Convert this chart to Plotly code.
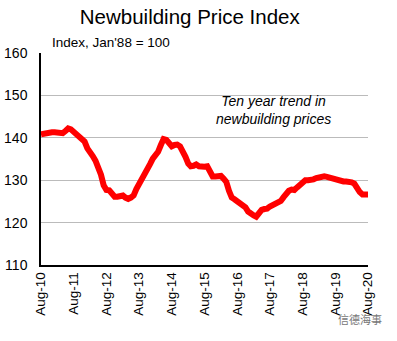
import plotly.graph_objects as go
import pandas as pd

values = [
    140.8, 141.0, 141.1, 141.2, 141.3, 141.3, 141.3, 141.2, 141.1, 141.6,
    142.2, 142.0, 141.5, 140.9, 140.4, 139.6, 139.1, 137.5, 136.8, 135.7,
    134.6, 133.3, 131.3, 128.8, 127.7, 127.6, 126.8, 126.1, 126.1, 126.3,
    126.4, 125.9, 125.6, 125.9, 126.4, 127.9, 129.0, 130.0, 131.2, 132.3,
    133.8, 135.1, 135.9, 136.7, 138.3, 139.7, 139.5, 138.6, 138.0, 138.3,
    138.4, 138.0, 137.0, 135.5, 133.9, 133.3, 133.4, 133.7, 133.3, 133.1,
    133.2, 133.3, 132.0, 130.9, 130.9, 130.9, 131.0, 130.4, 129.6, 127.5,
    125.9, 125.5, 125.0, 124.5, 124.0, 123.6, 122.6, 122.0, 121.7, 121.4,
    122.5, 123.0, 123.2, 123.3, 123.8, 124.2, 124.5, 124.6, 125.1, 126.0,
    126.9, 127.5, 127.8, 127.7, 128.3, 128.9, 129.5, 130.0, 130.0, 130.0,
    130.2, 130.5, 130.7, 130.8, 130.9, 130.8, 130.6, 130.4, 130.1, 130.0,
    129.8, 129.7, 129.7, 129.7, 129.5, 129.2, 128.0, 127.2, 126.6, 126.5,
    126.6,
]
dates = pd.date_range("2010-08-01", periods=len(values), freq="MS")
tick_dates = pd.date_range("2010-08-01", "2020-08-01", freq="12MS")
tick_labels = ["Aug-10", "Aug-11", "Aug-12", "Aug-13", "Aug-14", "Aug-15",
               "Aug-16", "Aug-17", "Aug-18", "Aug-19", "Aug-20"]
y_ticks = [110, 120, 130, 140, 150, 160]

FONT = "Liberation Sans, Arial, Helvetica, sans-serif"

fig = go.Figure()
fig.add_trace(go.Scatter(
    x=dates, y=values, mode="lines",
    line=dict(color="#FF0000", width=6),
    showlegend=False, hoverinfo="skip",
))

fig.update_layout(
    width=397, height=341,
    margin=dict(l=41, r=29, t=53, b=76),
    paper_bgcolor="white", plot_bgcolor="white",
    font=dict(family=FONT, color="black", size=12),
    title=dict(text="Newbuilding Price Index", x=0.478, xanchor="center",
               y=0.952, yanchor="middle", font=dict(size=20.5, family=FONT)),
    annotations=[
        dict(text="Index, Jan'88 = 100", xref="paper", yref="paper",
             x=0.028, y=1.005, xanchor="left", yanchor="bottom",
             showarrow=False, font=dict(size=13.5, family=FONT)),
        dict(text="<i>Ten year trend in<br>newbuilding prices</i>",
             xref="paper", yref="paper", x=0.71, y=0.73,
             xanchor="center", yanchor="middle", showarrow=False,
             font=dict(size=14, family=FONT)),
        dict(text="信德海事", xref="paper", yref="paper", x=1.05, y=-0.255,
             xanchor="right", yanchor="middle", showarrow=False,
             font=dict(size=11, family="Noto Sans CJK SC", color="#777777")),
    ],
)
fig.update_xaxes(
    range=[dates[0], dates[-1]], automargin=False,
    tickvals=list(tick_dates), ticktext=tick_labels, tickangle=-90,
    showgrid=False, showline=True, linecolor="black", linewidth=1.5,
    ticks="", tickfont=dict(size=13.5, family=FONT), zeroline=False,
)
fig.update_yaxes(
    range=[110, 160], tickvals=y_ticks, automargin=False,
    showgrid=True, gridcolor="#BBBBBB", gridwidth=1,
    showline=True, linecolor="black", linewidth=1.5,
    ticks="outside", ticklen=9, tickcolor="rgba(0,0,0,0)",
    tickfont=dict(size=14, family=FONT), zeroline=False,
)

fig.write_html("out.html")
